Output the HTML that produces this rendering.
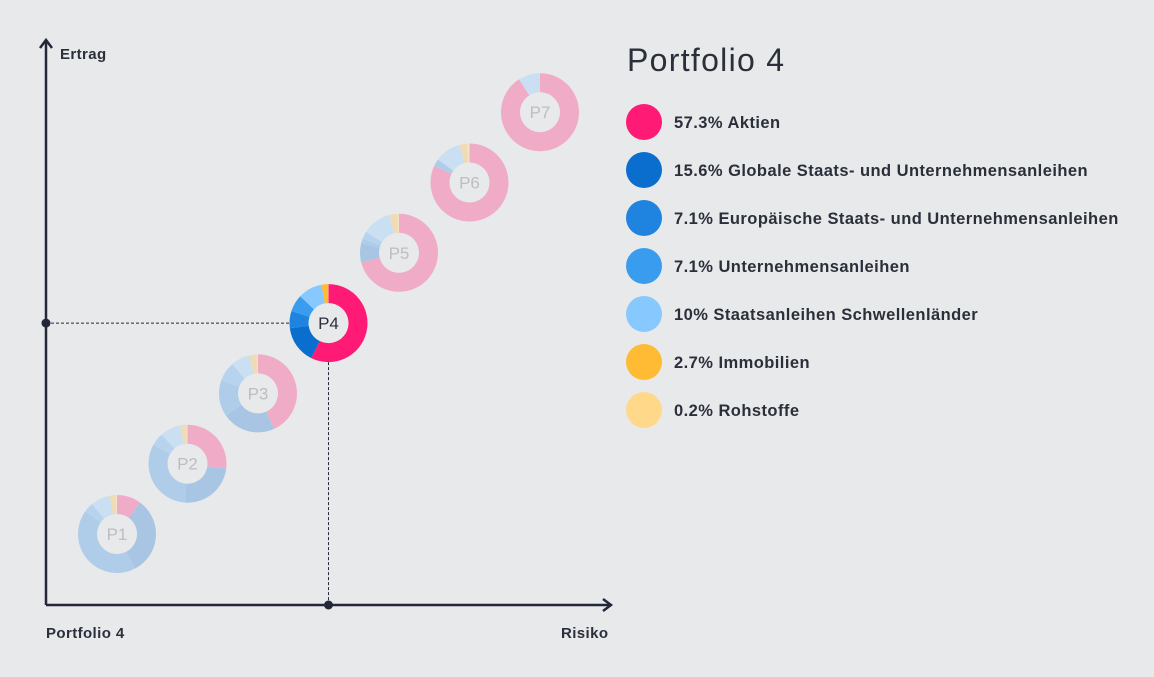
<!DOCTYPE html>
<html><head><meta charset="utf-8"><style>
body{margin:0;background:#e8e9eb;font-family:"Liberation Sans",sans-serif;}
svg{display:block}
</style></head><body>
<svg width="1154" height="677" viewBox="0 0 1154 677">
<rect width="1154" height="677" fill="#e8e9eb"/>
<g id="axes">
<line x1="46" y1="605" x2="46" y2="42" stroke="#222838" stroke-width="2.5"/>
<polyline points="40,48 46,40 52,48" fill="none" stroke="#222838" stroke-width="2.5"/>
<line x1="46" y1="605" x2="610" y2="605" stroke="#222838" stroke-width="2.5"/>
<polyline points="603,599 611,605 603,611" fill="none" stroke="#222838" stroke-width="2.5"/>
<text x="60" y="59" font-size="15" font-weight="bold" letter-spacing="0.4" fill="#2a2f3a">Ertrag</text>
<text x="561" y="638" font-size="15" font-weight="bold" letter-spacing="0.4" fill="#2a2f3a">Risiko</text>
<text x="46" y="638" font-size="15" font-weight="bold" letter-spacing="0.4" fill="#2a2f3a">Portfolio 4</text>
</g>
<g id="guides"></g>
<g id="donuts"></g>
<text x="627" y="71" font-size="32" letter-spacing="1.3" fill="#2a2f3a">Portfolio 4</text>
<g id="legend"></g>
</svg>
<script>
const NS="http://www.w3.org/2000/svg";
const names=["P1","P2","P3","P4","P5","P6","P7"];
const risk=[1,2,3,4,5,6,7];
const ret=[1,2,3,4,5,6,7];
const categories=["Aktien","Globale Staats- und Unternehmensanleihen","Europäische Staats- und Unternehmensanleihen","Unternehmensanleihen","Staatsanleihen Schwellenländer","Immobilien","Rohstoffe"];
const p1=[10,32,42,4,8,2.5,0.5];
const p2=[27,24,32,5.5,8.5,2.5,0.5];
const p3=[43,22,15,8,8,3,0.5];
const p4=[57.3,15.6,7.1,7.1,10,2.7,0.2];
const p5=[71,8,2,3,12,3.5,0.5];
const p6=[82,0,3,0,11,3,1];
const p7=[91,0,0,0,9,0,0];
const allocations=[p1,p2,p3,p4,p5,p6,p7];
const legendLabels=["57.3% Aktien","15.6% Globale Staats- und Unternehmensanleihen","7.1% Europäische Staats- und Unternehmensanleihen","7.1% Unternehmensanleihen","10% Staatsanleihen Schwellenländer","2.7% Immobilien","0.2% Rohstoffe"];
const selected=3;
const active=["#ff1a75","#0a6ecf","#1e84e0","#3a9cef","#87c8ff","#ffbb33","#ffd88a"];
const faded=["#f0abc7","#a8c6e3","#afcce9","#b7d3ee","#cadff2","#f0dcb4","#f5e4c4"];
function xS(v){return 117+(v-1)*70.5;}
function yS(v){return 534-(v-1)*70.3;}
function arc(cx,cy,R,r,a0,a1){
  const p=(a,rr)=>[cx+rr*Math.sin(a),cy-rr*Math.cos(a)];
  const lg=(a1-a0)>Math.PI?1:0;
  const [x0,y0]=p(a0,R),[x1,y1]=p(a1,R),[x2,y2]=p(a1,r),[x3,y3]=p(a0,r);
  return `M${x0},${y0}A${R},${R} 0 ${lg} 1 ${x1},${y1}L${x2},${y2}A${r},${r} 0 ${lg} 0 ${x3},${y3}Z`;
}
const g=document.getElementById('donuts');
const gd=document.getElementById('guides');
const sx=xS(risk[selected]),sy=yS(ret[selected]);
[[46,sy,sx-39,sy],[sx,sy+39,sx,605]].forEach((l,i)=>{
  const e=document.createElementNS(NS,'line');
  e.setAttribute('x1',l[0]);e.setAttribute('y1',l[1]);e.setAttribute('x2',l[2]);e.setAttribute('y2',l[3]);
  e.setAttribute('stroke','#222838');e.setAttribute('stroke-dasharray','3,2');e.setAttribute('stroke-width','1');
  
  
  gd.appendChild(e);
});
[[46,sy],[sx,605]].forEach((c,i)=>{
  const e=document.createElementNS(NS,'circle');
  e.setAttribute('cx',c[0]);e.setAttribute('cy',c[1]);e.setAttribute('r',4.5);e.setAttribute('fill','#222838');
  
  
  gd.appendChild(e);
});
allocations.forEach((vals,i)=>{
  const cx=xS(risk[i]),cy=yS(ret[i]);
  const grp=document.createElementNS(NS,'g');
  
  
  grp.style.cursor='pointer';
  const tot=vals.reduce((a,b)=>a+b,0);
  let a=0;
  vals.forEach((v,k)=>{
    if(v<=0)return;
    const a1=a+v/tot*2*Math.PI;
    const p=document.createElementNS(NS,'path');
    p.setAttribute('d',arc(cx,cy,39,20,a,a1));
    p.setAttribute('fill',i===selected?active[k]:faded[k]);
    
    
    grp.appendChild(p);
    a=a1;
  });
  const t=document.createElementNS(NS,'text');
  t.setAttribute('x',cx);t.setAttribute('y',cy+6);t.setAttribute('text-anchor','middle');
  t.setAttribute('font-size','17');t.setAttribute('fill',i===selected?'#2a2f3a':'#bcbec2');
  t.textContent=names[i];
  
  
  grp.appendChild(t);
  g.appendChild(grp);
});
const lg=document.getElementById('legend');
legendLabels.forEach((lab,k)=>{
  const y=122+k*48;
  const c=document.createElementNS(NS,'circle');
  c.setAttribute('cx',644);c.setAttribute('cy',y);c.setAttribute('r',18);c.setAttribute('fill',active[k]);
  
  
  lg.appendChild(c);
  const t=document.createElementNS(NS,'text');
  t.setAttribute('x',674);t.setAttribute('y',y+6);t.setAttribute('font-size','16.5');
  t.setAttribute('letter-spacing','0.45');
  t.setAttribute('font-weight','bold');t.setAttribute('fill','#2a2f3a');
  t.textContent=lab;
  
  
  lg.appendChild(t);
});
</script>
</body></html>
